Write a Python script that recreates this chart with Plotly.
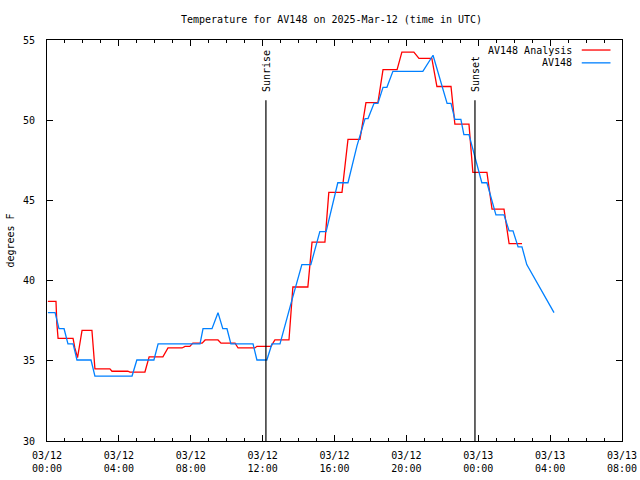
import plotly.graph_objects as go

# ---- data ----
analysis_time = [
    "2025-03-12 00:03", "2025-03-12 00:30", "2025-03-12 00:33", "2025-03-12 00:37",
    "2025-03-12 01:27", "2025-03-12 01:33", "2025-03-12 01:42", "2025-03-12 01:57",
    "2025-03-12 02:30", "2025-03-12 02:40", "2025-03-12 03:30", "2025-03-12 03:37",
    "2025-03-12 04:30", "2025-03-12 04:37", "2025-03-12 05:27", "2025-03-12 05:41",
    "2025-03-12 06:27", "2025-03-12 06:44", "2025-03-12 07:31", "2025-03-12 07:41",
    "2025-03-12 07:57", "2025-03-12 08:07", "2025-03-12 08:38", "2025-03-12 08:48",
    "2025-03-12 09:31", "2025-03-12 09:41", "2025-03-12 10:28", "2025-03-12 10:38",
    "2025-03-12 11:34", "2025-03-12 11:41", "2025-03-12 12:28", "2025-03-12 12:41",
    "2025-03-12 13:28", "2025-03-12 13:41", "2025-03-12 14:31", "2025-03-12 14:45",
    "2025-03-12 15:28", "2025-03-12 15:41", "2025-03-12 16:25", "2025-03-12 16:45",
    "2025-03-12 17:25", "2025-03-12 17:45", "2025-03-12 18:25", "2025-03-12 18:42",
    "2025-03-12 19:29", "2025-03-12 19:45", "2025-03-12 20:25", "2025-03-12 20:42",
    "2025-03-12 21:25", "2025-03-12 21:42", "2025-03-12 22:29", "2025-03-12 22:42",
    "2025-03-12 23:29", "2025-03-12 23:42", "2025-03-13 00:29", "2025-03-13 00:46",
    "2025-03-13 01:26", "2025-03-13 01:43", "2025-03-13 02:26",
]
analysis_temp = [
    38.7, 38.7, 37.3, 36.4,
    36.4, 35.8, 35.2, 36.9,
    36.9, 34.5, 34.5, 34.35,
    34.35, 34.3, 34.3, 35.25,
    35.25, 35.8, 35.8, 35.9,
    35.9, 36.1, 36.1, 36.3,
    36.3, 36.1, 36.1, 35.8,
    35.8, 35.9, 35.9, 36.3,
    36.3, 39.6, 39.6, 42.4,
    42.4, 45.5, 45.5, 48.8,
    48.8, 51.1, 51.1, 53.15,
    53.15, 54.25, 54.25, 53.85,
    53.85, 52.1, 52.1, 49.75,
    49.75, 46.75, 46.75, 44.45,
    44.45, 42.3, 42.3,
]

obs_time = [
    "2025-03-12 00:03", "2025-03-12 00:27", "2025-03-12 00:40", "2025-03-12 00:57",
    "2025-03-12 01:10", "2025-03-12 01:27", "2025-03-12 01:33", "2025-03-12 01:40",
    "2025-03-12 02:27", "2025-03-12 02:40", "2025-03-12 04:44", "2025-03-12 05:00",
    "2025-03-12 05:57", "2025-03-12 06:11", "2025-03-12 08:31", "2025-03-12 08:41",
    "2025-03-12 09:11", "2025-03-12 09:31", "2025-03-12 09:47", "2025-03-12 10:01",
    "2025-03-12 10:14", "2025-03-12 11:28", "2025-03-12 11:41", "2025-03-12 12:14",
    "2025-03-12 12:31", "2025-03-12 12:58", "2025-03-12 13:35", "2025-03-12 14:11",
    "2025-03-12 14:41", "2025-03-12 15:11", "2025-03-12 15:32", "2025-03-12 16:11",
    "2025-03-12 16:45", "2025-03-12 17:15", "2025-03-12 17:42", "2025-03-12 17:52",
    "2025-03-12 18:12", "2025-03-12 18:25", "2025-03-12 18:42", "2025-03-12 18:55",
    "2025-03-12 19:15", "2025-03-12 20:55", "2025-03-12 21:29", "2025-03-12 22:16",
    "2025-03-12 22:29", "2025-03-12 22:42", "2025-03-12 23:02", "2025-03-12 23:12",
    "2025-03-12 23:29", "2025-03-13 00:12", "2025-03-13 00:29", "2025-03-13 00:59",
    "2025-03-13 01:26", "2025-03-13 01:43", "2025-03-13 01:56", "2025-03-13 02:13",
    "2025-03-13 02:26", "2025-03-13 02:42", "2025-03-13 04:13",
]
obs_temp = [
    38.0, 38.0, 37.0, 37.0,
    36.05, 36.05, 35.6, 35.05,
    35.05, 34.05, 34.05, 35.05,
    35.05, 36.05, 36.05, 37.0,
    37.0, 38.0, 37.0, 37.0,
    36.05, 36.05, 35.05, 35.05,
    36.05, 36.05, 38.6, 41.0,
    41.0, 43.05, 43.05, 46.1,
    46.1, 48.4, 50.1, 50.1,
    51.05, 51.05, 52.05, 52.05,
    53.05, 53.05, 54.05, 51.05,
    51.05, 50.05, 50.05, 49.1,
    49.1, 46.1, 46.1, 44.1,
    44.1, 43.1, 43.1, 42.1,
    42.1, 41.0, 38.0,
]

sun_events = ["Sunrise", "Sunset"]
sun_times = ["2025-03-12 12:11", "2025-03-12 23:49"]

x_tickvals = [
    "2025-03-12 00:00", "2025-03-12 04:00", "2025-03-12 08:00", "2025-03-12 12:00",
    "2025-03-12 16:00", "2025-03-12 20:00", "2025-03-13 00:00", "2025-03-13 04:00",
    "2025-03-13 08:00",
]
x_ticktext = [
    "03/12<br>00:00", "03/12<br>04:00", "03/12<br>08:00", "03/12<br>12:00",
    "03/12<br>16:00", "03/12<br>20:00", "03/13<br>00:00", "03/13<br>04:00",
    "03/13<br>08:00",
]
y_tickvals = [30, 35, 40, 45, 50, 55]

series_names = ["AV148 Analysis", "AV148"]
series_colors = ["#ff0000", "#0080ff"]

FONT = "DejaVu Sans Mono"

fig = go.Figure()
fig.add_trace(go.Scatter(x=analysis_time, y=analysis_temp, mode="lines",
                         name=series_names[0], line=dict(color=series_colors[0], width=1.3),
                         showlegend=False))
fig.add_trace(go.Scatter(x=obs_time, y=obs_temp, mode="lines",
                         name=series_names[1], line=dict(color=series_colors[1], width=1.3),
                         showlegend=False))

# sunrise / sunset lines and labels
for name, t in zip(sun_events, sun_times):
    fig.add_shape(type="line", xref="x", yref="y", x0=t, x1=t, y0=30, y1=51.25,
                  line=dict(color="black", width=1.2))
    fig.add_annotation(x=t, y=51.25, xref="x", yref="y", text=name, textangle=-90,
                       showarrow=False, xanchor="center", yanchor="bottom", yshift=6,
                       font=dict(family=FONT, size=10, color="black"))

# custom legend (text right, line sample on right like gnuplot)
legend_y = [0.975, 0.943]
for name, color, ly in zip(series_names, series_colors, legend_y):
    fig.add_annotation(x=0.917, y=ly, xref="paper", yref="paper", text=name,
                       showarrow=False, xanchor="right", yanchor="middle",
                       font=dict(family=FONT, size=10, color="black"))
    fig.add_shape(type="line", xref="paper", yref="paper", x0=0.93, x1=0.98,
                  y0=ly, y1=ly, line=dict(color=color, width=1.3))

fig.update_layout(
    width=640, height=480,
    margin=dict(l=47, r=18, t=40, b=39, autoexpand=False),
    paper_bgcolor="white", plot_bgcolor="white",
    font=dict(family=FONT, size=10, color="black"),
    title=dict(text="Temperature for AV148 on 2025-Mar-12 (time in UTC)",
               x=0.518, xanchor="center", y=0.96, yanchor="middle",
               font=dict(family=FONT, size=10, color="black"), automargin=False),
    showlegend=False,
)
fig.update_xaxes(
    type="date", range=["2025-03-12 00:00", "2025-03-13 08:00"],
    tickvals=x_tickvals, ticktext=x_ticktext,
    ticks="inside", ticklen=6, tickcolor="black",
    minor=dict(dtick=3600000, ticks="inside", ticklen=3, tickcolor="black", showgrid=False),
    showline=True, linecolor="black", linewidth=1, mirror="ticks",
    showgrid=False, zeroline=False, automargin=False, ticklabelstandoff=5,
    tickfont=dict(family=FONT, size=10),
)
fig.update_yaxes(
    range=[30, 55], tickvals=y_tickvals,
    ticks="inside", ticklen=6, tickcolor="black",
    showline=True, linecolor="black", linewidth=1, mirror="ticks",
    showgrid=False, zeroline=False, automargin=False, ticklabelstandoff=9,
    title=dict(text="degrees F", standoff=6, font=dict(family=FONT, size=10)),
    tickfont=dict(family=FONT, size=10),
)

fig.write_html("out.html",
               config={"displayModeBar": False, "staticPlot": True},
               post_script="document.body.style.margin='0';document.body.style.padding='0';")
